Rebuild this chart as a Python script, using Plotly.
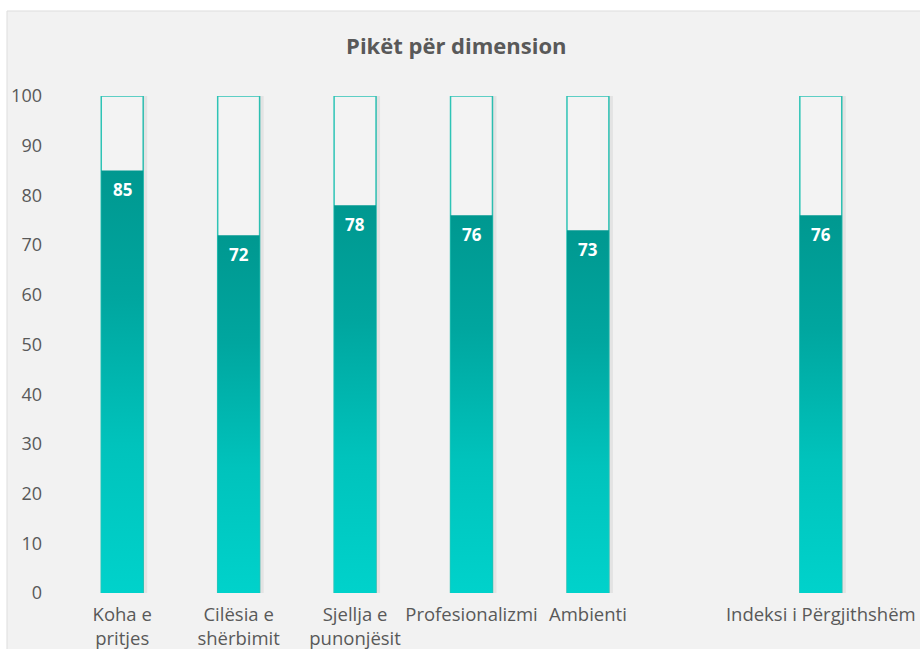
import plotly.graph_objects as go

# Scores per dimension; the empty slot separates the overall index
categories = ["Koha e<br>pritjes", "Cilësia e<br>shërbimit", "Sjellja e<br>punonjësit",
              "Profesionalizmi", "Ambienti", "", "Indeksi i Përgjithshëm"]
scores = [85, 72, 78, 76, 73, None, 76]
max_score = 100
y_ticks = [0, 10, 20, 30, 40, 50, 60, 70, 80, 90, 100]

BAR_W = 0.36
OUTLINE = "#2ec4b6"
GRADIENT = [[0.0, "#00d2cb"], [0.35, "#00c3bc"], [0.7, "#00a69f"], [1.0, "#009890"]]
TEXT_GRAY = "#595959"
FONT = "Open Sans"

positions = list(range(len(categories)))
fig = go.Figure()

for pos, val in zip(positions, scores):
    if val is None:
        continue
    # soft shadow on the right side of each column
    sx0 = pos + BAR_W / 2
    sx1 = sx0 + 0.035
    fig.add_trace(go.Scatter(
        x=[sx0, sx1, sx1, sx0, sx0], y=[0, 0, max_score, max_score, 0],
        mode="lines", fill="toself", line=dict(width=0),
        fillcolor="rgba(0,0,0,0.06)", hoverinfo="skip", showlegend=False))

# Full-scale outline columns
fig.add_trace(go.Bar(
    x=[p for p, v in zip(positions, scores) if v is not None],
    y=[max_score for v in scores if v is not None],
    width=BAR_W, marker=dict(color="#f3f3f3", line=dict(color=OUTLINE, width=1.5)),
    hoverinfo="skip", showlegend=False))

# Gradient-filled score columns
for pos, val in zip(positions, scores):
    if val is None:
        continue
    x0, x1 = pos - BAR_W / 2, pos + BAR_W / 2
    fig.add_trace(go.Scatter(
        x=[x0, x1, x1, x0, x0], y=[0, 0, val, val, 0],
        mode="lines", fill="toself", line=dict(width=0),
        fillgradient=dict(type="vertical", colorscale=GRADIENT, start=0, stop=val),
        hoverinfo="skip", showlegend=False))
    fig.add_annotation(
        x=pos, y=val, text=f"<b>{val}</b>", showarrow=False,
        yanchor="middle", yshift=-19,
        font=dict(family=FONT, size=17, color="white"))

fig.update_layout(
    width=920, height=649,
    margin=dict(l=64, r=41, t=96, b=56),
    paper_bgcolor="white", plot_bgcolor="rgba(0,0,0,0)",
    font=dict(family=FONT, color=TEXT_GRAY),
    title=dict(text="<b>Pikët për dimension</b>", x=0.496, xanchor="center",
               y=1 - 46 / 649, yanchor="middle",
               font=dict(family=FONT, size=22, color=TEXT_GRAY)),
    showlegend=False,
    shapes=[dict(type="rect", xref="paper", yref="paper",
                 x0=(7 - 64) / 815, x1=(925 - 64) / 815,
                 y0=(593 - 655) / 497, y1=(593 - 11) / 497,
                 fillcolor="#f2f2f2", line=dict(color="#dddddd", width=1),
                 layer="below")],
)

fig.update_xaxes(
    range=[-0.5, len(categories) - 0.5],
    tickmode="array", tickvals=positions, ticktext=categories,
    showgrid=False, zeroline=False, showline=False, ticks="",
    tickfont=dict(family=FONT, size=18.5, color=TEXT_GRAY), tickangle=0,
    ticklabelstandoff=8, automargin=False, fixedrange=True)

fig.update_yaxes(
    range=[0, max_score], tickvals=y_ticks,
    showgrid=False, zeroline=False, showline=False, ticks="",
    tickfont=dict(family=FONT, size=18, color=TEXT_GRAY),
    ticklabelstandoff=21, automargin=False, fixedrange=True)

fig.write_html("out.html")
